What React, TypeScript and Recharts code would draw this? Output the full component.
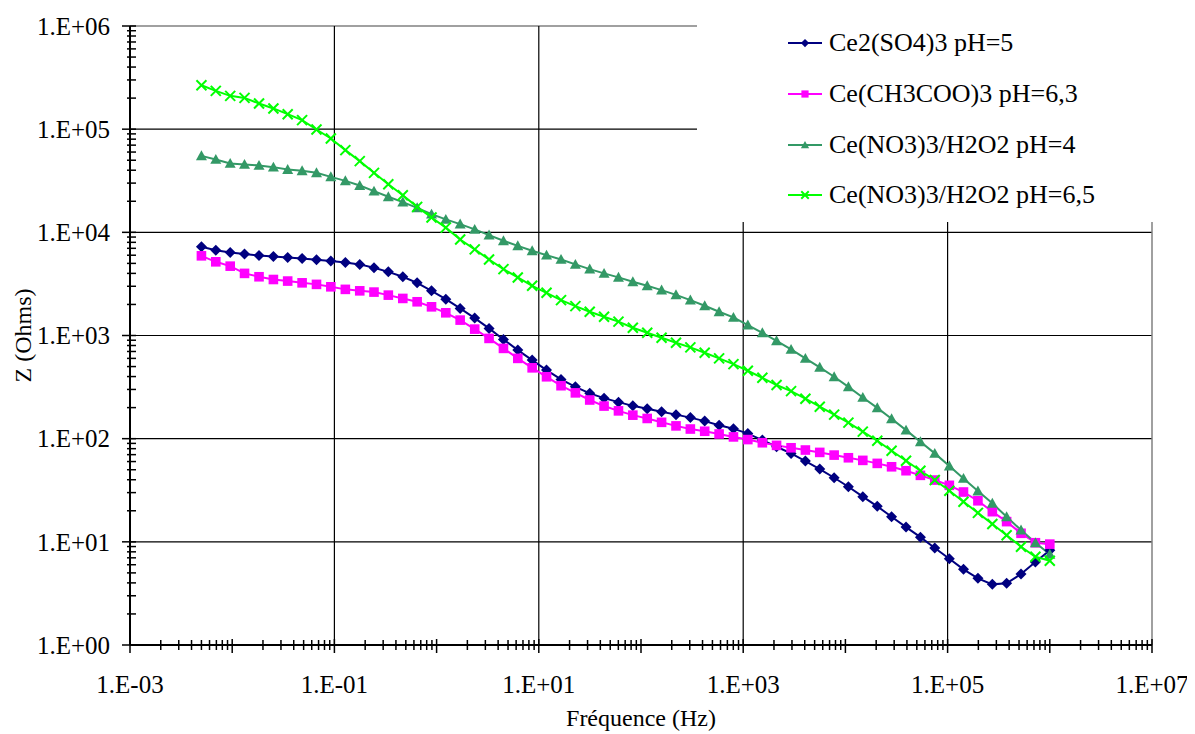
import { LineChart, Line, XAxis, YAxis, ReferenceLine, Legend } from "recharts";

// frequencies (Hz): 60 points, log-spaced from 5 mHz to 1 MHz
const freq = [
  5.0e-3, 6.91e-3, 9.56e-3, 1.32e-2, 1.83e-2, 2.53e-2, 3.49e-2, 4.83e-2, 6.68e-2, 9.23e-2,
  0.128, 0.177, 0.244, 0.337, 0.467, 0.645, 0.892, 1.23, 1.7, 2.36,
  3.26, 4.51, 6.23, 8.61, 11.9, 16.5, 22.8, 31.5, 43.5, 60.2,
  83.2, 115, 159, 220, 304, 420, 581, 803, 1110, 1540,
  2120, 2940, 4060, 5610, 7760, 10700, 14800, 20500, 28300, 39200,
  54200, 74900, 104000, 143000, 198000, 274000, 378000, 523000, 723000, 1000000,
];

// |Z| in Ohms
const ceSulfate = [
  7240, 6720, 6390, 6150, 5970, 5840, 5710, 5590, 5420, 5260,
  5110, 4890, 4530, 4140, 3710, 3240, 2710, 2250, 1830, 1474,
  1172, 916, 722, 578, 462, 375, 318, 275, 247, 226,
  208, 195, 182, 171, 160, 148, 135, 125, 112, 96.9,
  83.5, 72, 60.7, 50.7, 41.8, 34.2, 27.4, 22.1, 17.5, 13.9,
  11.1, 8.71, 6.86, 5.41, 4.43, 3.87, 3.96, 4.88, 6.37, 8.3,
];
const ceAcetate = [
  5920, 5180, 4700, 4000, 3710, 3490, 3370, 3240, 3130, 2965,
  2800, 2710, 2635, 2462, 2287, 2123, 1897, 1660, 1410, 1153,
  937, 750, 600, 486, 398, 326, 278, 237, 207, 186,
  169, 157, 144, 133, 124, 118, 111, 104, 98, 91.3,
  86.1, 81.6, 77.6, 73.6, 69.3, 65.3, 61.6, 57.6, 53.4, 48.9,
  44.1, 39.7, 35.3, 30.4, 25.0, 19.6, 15.7, 12.1, 9.8, 9.5,
];
const ceNitratePh4 = [
  55100, 50850, 46550, 45500, 44500, 42850, 40650, 39450, 37750, 34500,
  31550, 28450, 25070, 22100, 19630, 17270, 15000, 13340, 12020, 10670,
  9400, 8280, 7400, 6620, 6010, 5460, 4890, 4400, 4000, 3660,
  3315, 3030, 2754, 2479, 2203, 1941, 1698, 1497, 1261, 1062,
  889, 733, 600, 491, 398, 318, 251, 199, 156, 121,
  93.3, 72, 54.2, 41.2, 31.1, 23.6, 17.5, 13.0, 9.8, 7.57,
];
const ceNitratePh65 = [
  266800, 235000, 210300, 201000, 177400, 158800, 139700, 122300, 99300, 81300,
  62600, 48980, 37720, 29300, 22920, 17660, 13940, 11100, 8530, 6830,
  5460, 4400, 3655, 3030, 2593, 2203, 1928, 1698, 1518, 1364,
  1188, 1062, 950, 850, 767, 680, 600, 528, 455, 389,
  331, 289, 244, 204, 171, 143, 117, 95.4, 76.3, 61.1,
  48.9, 39.7, 31.3, 24.5, 19.1, 14.9, 11.6, 8.97, 7.17, 6.56,
];

const seriesNames = [
  "Ce2(SO4)3 pH=5",
  "Ce(CH3COO)3 pH=6,3",
  "Ce(NO3)3/H2O2 pH=4",
  "Ce(NO3)3/H2O2 pH=6,5",
];

// axis decades
const xDecades = [1e-3, 1e-2, 1e-1, 1, 10, 100, 1e3, 1e4, 1e5, 1e6, 1e7];
const xLabelled = [1e-3, 1e-1, 10, 1e3, 1e5, 1e7];
const yDecades = [1, 10, 100, 1e3, 1e4, 1e5, 1e6];
const minorSteps = [2, 3, 4, 5, 6, 7, 8, 9];

const xGrid = [1e-1, 10, 1e3, 1e5];
const yGrid = [10, 100, 1e3, 1e4, 1e5];

const withMinors = (decades: number[]) => {
  const out: number[] = [];
  decades.forEach((d, i) => {
    out.push(d);
    if (i < decades.length - 1) minorSteps.forEach((m) => out.push(d * m));
  });
  return out;
};
const xTicks = withMinors(xDecades);
const yTicks = withMinors(yDecades);

const data = freq.map((f, i) => ({
  f,
  s1: ceSulfate[i],
  s2: ceAcetate[i],
  s3: ceNitratePh4[i],
  s4: ceNitratePh65[i],
}));

const keys = ["s1", "s2", "s3", "s4"];

const FONT = "'Liberation Serif', 'Times New Roman', serif";

const styles: Record<string, { color: string; kind: string }> = {
  s1: { color: "#000080", kind: "diamond" },
  s2: { color: "#FF00FF", kind: "square" },
  s3: { color: "#339966", kind: "triangle" },
  s4: { color: "#00FF00", kind: "cross" },
};

function Marker({ kind, cx, cy, color, r }: any) {
  if (cx == null || cy == null) return null;
  if (kind === "diamond")
    return (
      <polygon
        points={`${cx},${cy - r} ${cx + r},${cy} ${cx},${cy + r} ${cx - r},${cy}`}
        fill={color}
      />
    );
  if (kind === "square")
    return <rect x={cx - r} y={cy - r} width={2 * r} height={2 * r} fill={color} />;
  if (kind === "triangle")
    return (
      <polygon
        points={`${cx},${cy - r} ${cx + r},${cy + r * 0.8} ${cx - r},${cy + r * 0.8}`}
        fill={color}
      />
    );
  return (
    <g stroke={color} strokeWidth={2}>
      <line x1={cx - r} y1={cy - r} x2={cx + r} y2={cy + r} />
      <line x1={cx - r} y1={cy + r} x2={cx + r} y2={cy - r} />
    </g>
  );
}

const sizes: Record<string, number> = { diamond: 5.5, square: 4.8, triangle: 5.5, cross: 5 };

const isDecade = (v: number) => Math.abs(Math.log10(v) - Math.round(Math.log10(v))) < 1e-9;
const fmt = (v: number) => {
  const e = Math.round(Math.log10(v));
  return `1.E${e < 0 ? "-" : "+"}${String(Math.abs(e)).padStart(2, "0")}`;
};

function XTick({ x, y, payload }: any) {
  const v = payload.value;
  const major = isDecade(v);
  return (
    <g>
      <line x1={x} x2={x} y1={y - (major ? 6 : 5)} y2={y + (major ? 8 : 5)} stroke="#000" strokeWidth={1.5} />
      {xLabelled.includes(v) && (
        <text x={x} y={y + 48} textAnchor="middle" fontSize={25} fontFamily={FONT} fill="#000">
          {fmt(v)}
        </text>
      )}
    </g>
  );
}

function YTick({ x, y, payload }: any) {
  const v = payload.value;
  const major = isDecade(v);
  return (
    <g>
      <line x1={x - (major ? 8 : 3)} x2={x + 6} y1={y} y2={y} stroke="#000" strokeWidth={1.5} />
      {major && (
        <text x={x - 20} y={y} dy="0.35em" textAnchor="end" fontSize={25} fontFamily={FONT} fill="#000">
          {fmt(v)}
        </text>
      )}
    </g>
  );
}

const renderLegend = (props: any) => {
  const entries = [...(props.payload || [])].sort(
    (a: any, b: any) => keys.indexOf(a.dataKey) - keys.indexOf(b.dataKey)
  );
  return (
    <div style={{ paddingTop: 10, paddingLeft: 91, fontFamily: FONT }}>
      {entries.map((entry: any) => {
        const st = styles[entry.dataKey];
        return (
          <div key={entry.dataKey} style={{ height: 50.7, display: "flex", alignItems: "center" }}>
            <svg width={34} height={20}>
              <line x1={0} x2={34} y1={10} y2={10} stroke={st.color} strokeWidth={2} />
              <Marker kind={st.kind} cx={17} cy={10} color={st.color} r={sizes[st.kind] * 0.75} />
            </svg>
            <span style={{ marginLeft: 7, fontSize: 26, color: "#000", whiteSpace: "nowrap" }}>
              {entry.value}
            </span>
          </div>
        );
      })}
    </div>
  );
};

export default function App() {
  return (
    <div style={{ width: 1187, height: 726, background: "#fff" }}>
      <LineChart width={1187} height={726} data={data} margin={{ top: 18, right: 43, bottom: 0, left: 0 }}>
        <XAxis
          dataKey="f"
          type="number"
          scale="log"
          domain={[1e-3, 1e7]}
          allowDataOverflow
          ticks={xTicks}
          interval={0}
          tick={<XTick />}
          tickLine={false}
          tickSize={0}
          tickMargin={0}
          height={89}
          axisLine={{ stroke: "#000", strokeWidth: 2 }}
          label={{
            value: "Fréquence (Hz)",
            position: "insideBottom",
            offset: 8,
            style: { fontSize: 24, fontFamily: FONT, fill: "#000" },
          }}
        />
        <YAxis
          type="number"
          scale="log"
          domain={[1, 1e6]}
          allowDataOverflow
          ticks={yTicks}
          interval={0}
          tick={<YTick />}
          tickLine={false}
          tickSize={0}
          tickMargin={0}
          width={122}
          axisLine={{ stroke: "#000", strokeWidth: 2 }}
          label={{
            value: "Z (Ohms)",
            angle: -90,
            position: "insideLeft",
            offset: 14,
            style: { fontSize: 24, fontFamily: FONT, fill: "#000", textAnchor: "middle" },
          }}
        />
        {yGrid.map((v) => (
          <ReferenceLine key={`y${v}`} y={v} stroke="#000" strokeWidth={1.2} />
        ))}
        <ReferenceLine y={1e6} stroke="#808080" strokeWidth={1.5} />
        {xGrid.map((v) => (
          <ReferenceLine key={`x${v}`} x={v} stroke="#000" strokeWidth={1.2} />
        ))}
        <ReferenceLine x={1e7} stroke="#808080" strokeWidth={1.5} />
        {keys.map((k, i) => (
          <Line
            key={k}
            dataKey={k}
            name={seriesNames[i]}
            type="linear"
            stroke={styles[k].color}
            strokeWidth={2}
            isAnimationActive={false}
            activeDot={false}
            dot={(p: any) => (
              <Marker
                key={`${k}-${p.index}`}
                kind={styles[k].kind}
                cx={p.cx}
                cy={p.cy}
                color={styles[k].color}
                r={sizes[styles[k].kind]}
              />
            )}
          />
        ))}
        <Legend
          layout="vertical"
          align="center"
          verticalAlign="middle"
          content={renderLegend}
          wrapperStyle={{ top: 0, left: 689, right: "auto", bottom: "auto", width: 498, height: 214, background: "#fff" }}
        />
      </LineChart>
    </div>
  );
}
